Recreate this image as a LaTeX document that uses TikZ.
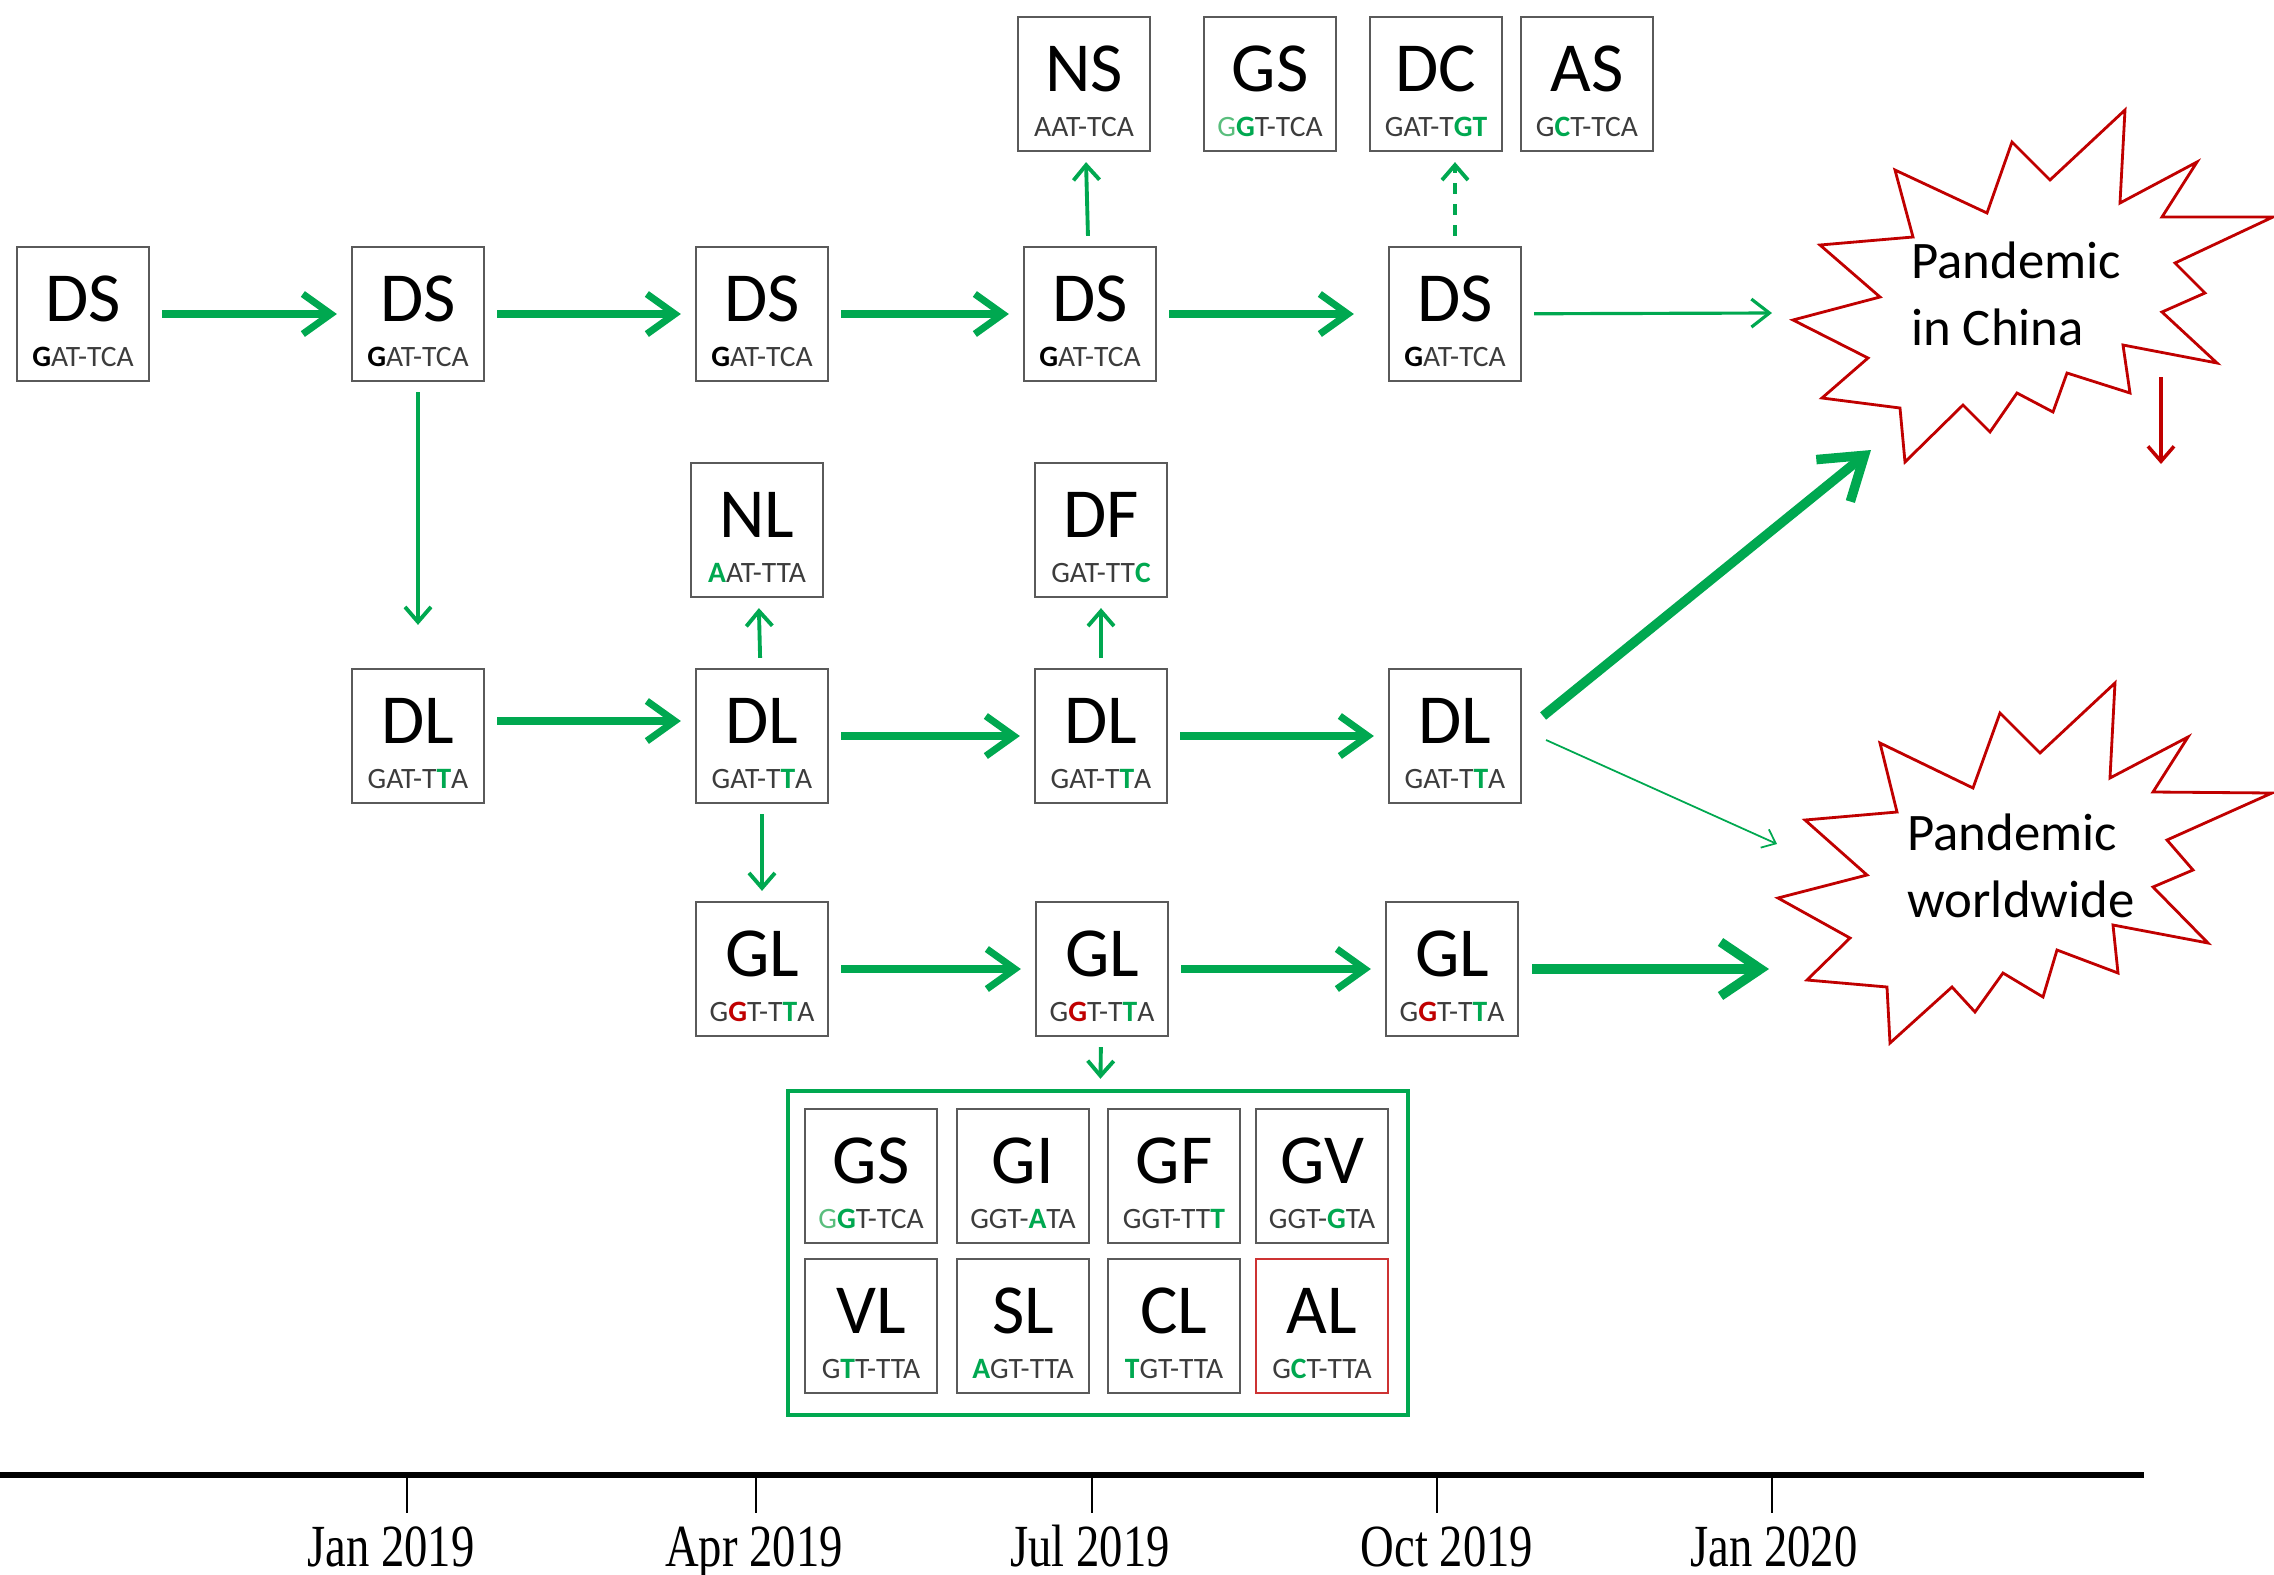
\documentclass[tikz,border=0pt]{standalone}
\usepackage{fontspec}
\setmainfont{Carlito}
\newfontfamily\datefont{Liberation Serif}
\usetikzlibrary{arrows.meta}

\definecolor{vgreen}{RGB}{0,168,80}
\definecolor{lgreen}{RGB}{90,190,125}
\definecolor{vred}{RGB}{192,0,0}
\definecolor{seqgray}{RGB}{60,60,60}
\definecolor{boxgray}{RGB}{90,90,90}

\newcommand\mutG[1]{\textcolor{vgreen}{\textbf{#1}}}
\newcommand\mutR[1]{\textcolor{vred}{\textbf{#1}}}
\newcommand\mutK[1]{\textcolor{black}{\textbf{#1}}}
\newcommand\stlabel[2]{%
	\begin{tabular}{@{}c@{}}%
		\fontsize{20}{20}\selectfont\rule{0pt}{20.7pt}#1\\[0.8pt]%
		\fontsize{8.4}{10}\selectfont\color{seqgray}#2%
	\end{tabular}}

\tikzset{
	strainbox/.style={draw=boxgray, line width=0.6pt, fill=white,
		minimum width=1.32cm, minimum height=1.34cm, inner sep=0pt},
	fatarrow/.style={draw=vgreen, line width=2pt,
		-{Straight Barb[length=2.8mm,width=4mm]},
		shorten <=1.2mm, shorten >=1.4mm},
	hugearrow/.style={draw=vgreen, line width=2.7pt,
		-{Straight Barb[length=4mm,width=5.4mm]}},
	thinarrow/.style={draw=vgreen, line width=1.1pt,
		-{Straight Barb[length=1.5mm,width=2.6mm]},
		shorten <=1mm, shorten >=1mm},
	burst/.style={draw=vred, line width=0.8pt, fill=white},
	burstlbl/.style={align=left, font=\fontsize{15}{19}\selectfont, inner sep=0pt},
	datelbl/.style={font=\datefont\fontsize{17}{17}\selectfont, inner sep=0pt, anchor=base}
}

\begin{document}
\begin{tikzpicture}[x=0.01cm, y=-0.01cm]
	\useasboundingbox (0,0) rectangle (2274,1575);
	
	% outbreaks
	\draw[burst] (2125,110) -- (2120,203) -- (2197,162) -- (2162,217) -- (2273,217)
		-- (2175,263) -- (2205,293) -- (2162,312) -- (2217,363) -- (2123,345)
		-- (2130,393) -- (2067,373) -- (2053,412) -- (2017,393) -- (1990,432)
		-- (1963,405) -- (1905,462) -- (1900,408) -- (1822,398) -- (1868,358)
		-- (1793,320) -- (1880,297) -- (1820,245) -- (1913,237) -- (1895,170)
		-- (1987,213) -- (2012,142) -- (2050,180) -- cycle;
	\node[burstlbl] (china) at (2016,294) {Pandemic\\in China};
	
	\draw[burst] (2115,683) -- (2110,778) -- (2188,737) -- (2153,792) -- (2272,793)
		-- (2167,840) -- (2193,870) -- (2153,887) -- (2208,943) -- (2113,925)
		-- (2118,973) -- (2057,950) -- (2043,997) -- (2003,973) -- (1975,1012)
		-- (1952,987) -- (1890,1043) -- (1887,987) -- (1807,980) -- (1850,938)
		-- (1778,898) -- (1867,875) -- (1805,820) -- (1897,812) -- (1880,743)
		-- (1973,788) -- (2000,713) -- (2040,753) -- cycle;
	\node[burstlbl] (world) at (2021,866) {Pandemic\\worldwide};
	
	\coordinate (chinaIn) at (1772,313);
	\coordinate (chinaLow) at (1871,450);
	\coordinate (worldUp) at (1777,844);
	\coordinate (worldIn) at (1769,969);
	\coordinate (dropTop) at (2161,377);
	\coordinate (dropEnd) at (2161,464);
	
	% DS line
	\node[strainbox] (ds1) at (83,314) {\stlabel{DS}{\mutK{G}AT-TCA}};
	\node[strainbox] (ds2) at (418,314) {\stlabel{DS}{\mutK{G}AT-TCA}};
	\node[strainbox] (ds3) at (762,314) {\stlabel{DS}{\mutK{G}AT-TCA}};
	\node[strainbox] (ds4) at (1090,314) {\stlabel{DS}{\mutK{G}AT-TCA}};
	\node[strainbox] (ds5) at (1455,314) {\stlabel{DS}{\mutK{G}AT-TCA}};
	
	\node[strainbox] (ns) at (1084,84) {\stlabel{NS}{AAT-TCA}};
	\node[strainbox] (gs) at (1270,84) {\stlabel{GS}{\textcolor{lgreen}{G}\mutG{G}T-TCA}};
	\node[strainbox] (dc) at (1436,84) {\stlabel{DC}{GAT-T\mutG{GT}}};
	\node[strainbox] (as) at (1587,84) {\stlabel{AS}{G\mutG{C}T-TCA}};
	
	% DL line
	\node[strainbox] (nl) at (757,530) {\stlabel{NL}{\mutG{A}AT-TTA}};
	\node[strainbox] (df) at (1101,530) {\stlabel{DF}{GAT-TT\mutG{C}}};
	\node[strainbox] (dl1) at (418,736) {\stlabel{DL}{GAT-T\mutG{T}A}};
	\node[strainbox] (dl2) at (762,736) {\stlabel{DL}{GAT-T\mutG{T}A}};
	\node[strainbox] (dl3) at (1101,736) {\stlabel{DL}{GAT-T\mutG{T}A}};
	\node[strainbox] (dl4) at (1455,736) {\stlabel{DL}{GAT-T\mutG{T}A}};
	
	% GL line
	\node[strainbox] (gl1) at (762,969) {\stlabel{GL}{G\mutR{G}T-T\mutG{T}A}};
	\node[strainbox] (gl2) at (1102,969) {\stlabel{GL}{G\mutR{G}T-T\mutG{T}A}};
	\node[strainbox] (gl3) at (1452,969) {\stlabel{GL}{G\mutR{G}T-T\mutG{T}A}};
	
	\node[draw=vgreen, line width=1.2pt, minimum width=6.2cm, minimum height=3.24cm] (glset) at (1098,1253) {};
	\node[strainbox] (gs2) at (871,1176) {\stlabel{GS}{\textcolor{lgreen}{G}\mutG{G}T-TCA}};
	\node[strainbox] (gi) at (1023,1176) {\stlabel{GI}{GGT-\mutG{A}TA}};
	\node[strainbox] (gf) at (1174,1176) {\stlabel{GF}{GGT-TT\mutG{T}}};
	\node[strainbox] (gv) at (1322,1176) {\stlabel{GV}{GGT-\mutG{G}TA}};
	\node[strainbox] (vl) at (871,1326) {\stlabel{VL}{G\mutG{T}T-TTA}};
	\node[strainbox] (sl) at (1023,1326) {\stlabel{SL}{\mutG{A}GT-TTA}};
	\node[strainbox] (cl) at (1174,1326) {\stlabel{CL}{\mutG{T}GT-TTA}};
	\node[strainbox, draw=vred!80] (al) at (1322,1326) {\stlabel{AL}{G\mutG{C}T-TTA}};
	
	% arrows
	\draw[fatarrow] (ds1) -- (ds2);
	\draw[fatarrow] (ds2) -- (ds3);
	\draw[fatarrow] (ds3) -- (ds4);
	\draw[fatarrow, shorten >=3.4mm] (ds4) -- (ds5);
	\draw[draw=vgreen, line width=0.9pt, -{Straight Barb[length=1.8mm,width=2.8mm]}, shorten <=1.2mm] (ds5) -- (chinaIn);
	\draw[thinarrow] (ds4) -- (ns);
	\draw[thinarrow, dashed] (ds5.north) -- (ds5.north |- dc.south);
	\draw[thinarrow, shorten >=4.3mm] (ds2) -- (dl1);
	
	\draw[fatarrow] ([yshift=0.15cm]dl1.east) -- ([yshift=0.15cm]dl2.west);
	\draw[fatarrow] (dl2) -- (dl3);
	\draw[fatarrow] (dl3) -- (dl4);
	\draw[thinarrow] (dl2) -- (nl);
	\draw[thinarrow] (dl3) -- (df);
	\draw[thinarrow] (dl2) -- (gl1);
	\draw[hugearrow] ([shift={(21,-20)}]dl4.east) -- (chinaLow);
	\draw[draw=vgreen, line width=0.5pt, -{Straight Barb[length=1.2mm,width=2mm]}] ([shift={(24,4)}]dl4.east) -- (worldUp);
	
	\draw[fatarrow] (gl1) -- (gl2);
	\draw[fatarrow] (gl2) -- (gl3);
	\draw[hugearrow, shorten <=1.3mm] (gl3) -- (worldIn);
	\draw[thinarrow] (gl2) -- (glset);
	
	\draw[draw=vred, line width=1pt, -{Straight Barb[length=1.5mm,width=2.6mm]}] (dropTop) -- (dropEnd);
	
	% time axis
	\draw[line width=1.6pt] (0,1475) -- (2144,1475);
	\foreach \tx/\lx/\lab [count=\i] in {407/391/Jan 2019, 756/754/Apr 2019, 1092/1090/Jul 2019, 1437/1447/Oct 2019, 1772/1774/Jan 2020} {
		\draw[line width=0.8pt] (\tx,1475) -- (\tx,1513);
		\node[datelbl] (date\i) at (\lx,1566) {\scalebox{0.78}[1]{\lab}};
	}
	
\end{tikzpicture}
\end{document}
